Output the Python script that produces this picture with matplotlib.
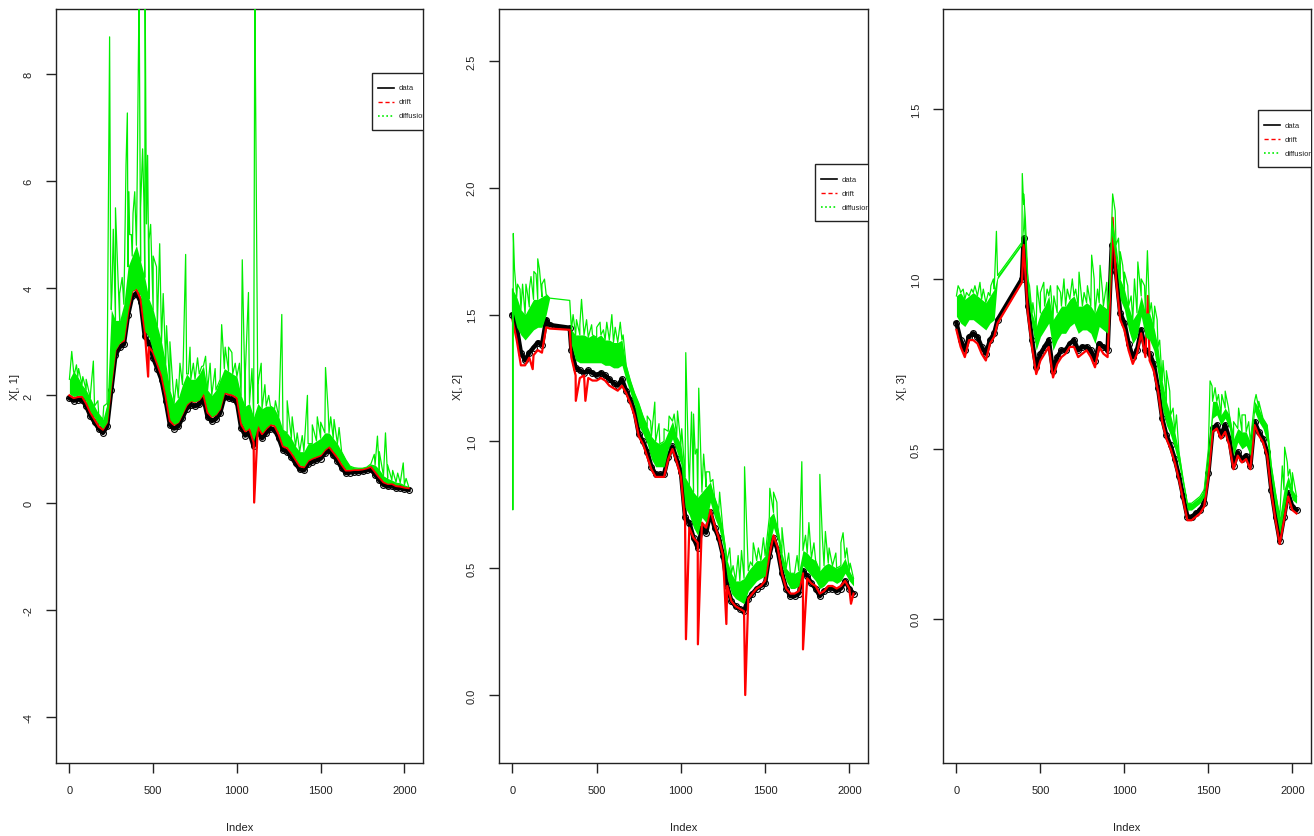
import numpy as np
import matplotlib
matplotlib.use("Agg")
import matplotlib.pyplot as plt
from matplotlib.patches import Rectangle
from matplotlib.lines import Line2D

plt.rcParams['font.family'] = ['Liberation Sans', 'DejaVu Sans']

# ---------------------------------------------------------------- data
# ---- X[, 1]  (sampled every 25th observation)
index1 = np.arange(0, 2026, 25)
data1 = [1.95, 1.90, 1.92, 1.92, 1.80, 1.62, 1.50, 1.38, 1.30, 1.42,
         2.10, 2.75, 2.90, 2.95, 3.50, 3.85, 3.90, 3.75, 3.10, 2.98,
         2.70, 2.50, 2.29, 1.90, 1.45, 1.38, 1.42, 1.58, 1.75, 1.82,
         1.80, 1.83, 1.95, 1.60, 1.52, 1.56, 1.67, 1.97, 1.95, 1.93,
         1.88, 1.40, 1.25, 1.30, 1.05, 1.35, 1.20, 1.30, 1.38, 1.36,
         1.20, 0.98, 0.95, 0.85, 0.73, 0.62, 0.60, 0.72, 0.76, 0.79,
         0.82, 0.92, 0.98, 0.88, 0.78, 0.65, 0.55, 0.56, 0.57, 0.57,
         0.58, 0.60, 0.62, 0.52, 0.42, 0.33, 0.30, 0.31, 0.27, 0.27,
         0.25, 0.24]
drift1 = [2.00, 1.95, 1.97, 1.98, 1.85, 1.68, 1.55, 1.42, 1.36, 1.50,
          2.20, 2.85, 2.98, 3.02, 3.55, 3.95, 3.98, 3.80, 3.20, 2.90,
          2.80, 2.58, 2.36, 1.98, 1.52, 1.45, 1.50, 1.66, 1.82, 1.90,
          1.88, 1.92, 2.02, 1.68, 1.60, 1.64, 1.75, 2.05, 2.02, 2.00,
          1.95, 1.48, 1.33, 1.38, 1.12, 1.42, 1.28, 1.38, 1.45, 1.43,
          1.27, 1.05, 1.02, 0.92, 0.80, 0.68, 0.66, 0.78, 0.82, 0.85,
          0.88, 0.98, 1.04, 0.94, 0.84, 0.71, 0.60, 0.60, 0.61, 0.61,
          0.62, 0.64, 0.67, 0.57, 0.47, 0.38, 0.35, 0.35, 0.31, 0.30,
          0.28, 0.27]
drift1_spike_idx = [470, 1027, 1103]
drift1_spike_val = [2.35, 1.45, 0.00]
diff1_lo = [2.03, 1.98, 2.00, 2.00, 1.88, 1.70, 1.58, 1.46, 1.38, 1.50,
            2.20, 2.85, 2.98, 3.05, 3.60, 3.95, 4.00, 3.85, 3.20, 3.08,
            2.80, 2.60, 2.38, 2.00, 1.55, 1.46, 1.50, 1.66, 1.84, 1.90,
            1.88, 1.92, 2.04, 1.70, 1.60, 1.65, 1.76, 2.06, 2.04, 2.02,
            1.97, 1.50, 1.34, 1.40, 1.15, 1.44, 1.30, 1.40, 1.47, 1.45,
            1.30, 1.07, 1.04, 0.94, 0.82, 0.70, 0.68, 0.80, 0.84, 0.87,
            0.90, 1.00, 1.06, 0.96, 0.86, 0.73, 0.62, 0.62, 0.63, 0.63,
            0.64, 0.66, 0.69, 0.59, 0.49, 0.40, 0.36, 0.37, 0.33, 0.33,
            0.30, 0.29]
diff1_hi = [2.30, 2.45, 2.35, 2.20, 2.10, 1.95, 1.80, 1.65, 1.55, 1.85,
            3.60, 3.40, 3.40, 3.70, 4.40, 4.60, 4.80, 4.50, 4.20, 3.80,
            3.60, 3.30, 3.00, 2.60, 2.10, 1.85, 1.95, 2.20, 2.40, 2.30,
            2.30, 2.40, 2.55, 2.10, 2.00, 2.10, 2.30, 2.50, 2.45, 2.40,
            2.35, 2.00, 1.80, 1.85, 1.60, 1.85, 1.75, 1.80, 1.80, 1.75,
            1.60, 1.35, 1.30, 1.20, 1.05, 0.95, 0.95, 1.10, 1.10, 1.15,
            1.20, 1.30, 1.30, 1.20, 1.10, 0.95, 0.80, 0.68, 0.65, 0.64,
            0.64, 0.66, 0.72, 0.70, 0.62, 0.50, 0.45, 0.42, 0.38, 0.37,
            0.33, 0.30]
diff1_spike_idx = [14, 30, 42, 55, 80, 100, 125, 143, 170, 205, 225,
                   240, 246, 255, 262, 268, 275, 290, 300, 315, 330, 338,
                   346, 355, 360, 370, 380, 390, 405, 416, 425, 437, 445,
                   452, 460, 467, 475, 485, 500, 520, 539, 560, 580, 600,
                   640, 660, 680, 694, 710, 720, 740, 765, 790, 813, 840,
                   870, 909, 930, 950, 970, 990, 1015, 1032, 1050, 1069,
                   1090, 1107, 1125, 1145, 1167, 1190, 1230, 1268, 1300,
                   1330, 1360, 1390, 1421, 1450, 1480, 1500, 1529, 1545,
                   1560, 1580, 1610, 1820, 1839, 1850, 1887, 1900, 1930,
                   1960, 1993, 2010]
diff1_spike_val = [2.82, 2.40, 2.57, 2.50, 2.35, 2.30, 2.00, 2.64, 1.90, 1.80,
                   2.20, 8.69, 4.42, 4.00, 5.10, 4.30, 5.50, 4.20, 3.90, 4.20,
                   4.60, 6.30, 7.27, 5.80, 5.00, 5.00, 5.40, 5.80, 6.10, 9.60,
                   5.50, 6.60, 5.60, 9.60, 5.20, 6.48, 4.90, 5.19, 4.60, 4.40,
                   4.83, 3.90, 3.30, 3.00, 2.30, 2.60, 2.70, 4.63, 2.40, 2.90,
                   2.60, 2.70, 2.54, 2.73, 2.60, 2.50, 3.32, 2.90, 2.90, 2.80,
                   2.60, 2.60, 4.53, 2.40, 3.92, 2.50, 9.60, 2.20, 2.60, 2.20,
                   2.00, 1.90, 3.51, 1.90, 1.60, 1.30, 1.25, 2.00, 1.45, 1.60,
                   1.50, 2.52, 1.70, 1.60, 1.55, 1.40, 0.90, 1.24, 0.95, 1.30,
                   0.70, 0.60, 0.55, 0.74, 0.45]

# ---- X[, 2]  (no observations between 221 and 340)
index2 = np.r_[np.arange(0, 201, 25), 221, 340, np.arange(350, 2026, 25)]
data2 = [1.50, 1.45, 1.35, 1.32, 1.35, 1.37, 1.39, 1.38, 1.48,
         1.459, 1.448,
         1.36, 1.29, 1.28, 1.27, 1.28, 1.27,
         1.26, 1.27, 1.26, 1.245, 1.23, 1.22, 1.245, 1.20, 1.165, 1.12,
         1.03, 1.00, 0.96, 0.90, 0.87, 0.87, 0.87, 0.94, 0.98, 0.93,
         0.88, 0.70, 0.68, 0.62, 0.58, 0.66, 0.64, 0.72, 0.66, 0.62,
         0.55, 0.43, 0.37, 0.35, 0.34, 0.33, 0.38, 0.40, 0.42, 0.43,
         0.44, 0.55, 0.62, 0.57, 0.48, 0.42, 0.39, 0.39, 0.40, 0.49,
         0.47, 0.44, 0.42, 0.39, 0.41, 0.42, 0.42, 0.41, 0.42, 0.45,
         0.42, 0.40]
drift2 = [1.48, 1.40, 1.30, 1.30, 1.33, 1.34, 1.36, 1.35, 1.45,
          1.445, 1.44,
          1.33, 1.26, 1.25, 1.26, 1.25, 1.24,
          1.24, 1.25, 1.24, 1.22, 1.21, 1.20, 1.22, 1.19, 1.15, 1.10,
          1.02, 0.99, 0.94, 0.89, 0.86, 0.86, 0.86, 0.93, 0.97, 0.92,
          0.86, 0.68, 0.66, 0.62, 0.60, 0.68, 0.66, 0.73, 0.67, 0.62,
          0.55, 0.43, 0.37, 0.35, 0.34, 0.33, 0.38, 0.40, 0.42, 0.43,
          0.45, 0.55, 0.63, 0.58, 0.48, 0.42, 0.40, 0.40, 0.41, 0.48,
          0.46, 0.44, 0.43, 0.40, 0.41, 0.43, 0.43, 0.42, 0.43, 0.45,
          0.42, 0.40]
drift2_spike_idx = [120, 376, 433, 1030, 1101, 1270, 1382, 1725, 2010]
drift2_spike_val = [1.285, 1.16, 1.16, 0.22, 0.20, 0.28, 0.00, 0.18, 0.36]
diff2_lo = [1.52, 1.45, 1.42, 1.40, 1.42, 1.44, 1.45, 1.45, 1.50,
            1.565, 1.556,
            1.38, 1.32, 1.31, 1.31, 1.31, 1.31,
            1.31, 1.31, 1.30, 1.30, 1.29, 1.29, 1.30, 1.24, 1.19, 1.14,
            1.06, 1.03, 0.99, 0.93, 0.90, 0.90, 0.90, 0.97, 1.01, 0.96,
            0.91, 0.74, 0.71, 0.66, 0.63, 0.70, 0.68, 0.76, 0.70, 0.66,
            0.59, 0.46, 0.40, 0.38, 0.37, 0.36, 0.41, 0.43, 0.45, 0.46,
            0.47, 0.59, 0.66, 0.61, 0.51, 0.45, 0.42, 0.42, 0.43, 0.51,
            0.49, 0.47, 0.45, 0.42, 0.43, 0.45, 0.45, 0.44, 0.45, 0.48,
            0.45, 0.43]
diff2_hi = [1.60, 1.57, 1.52, 1.50, 1.53, 1.56, 1.56, 1.57, 1.58,
            1.565, 1.556,
            1.44, 1.42, 1.42, 1.42, 1.41, 1.42,
            1.41, 1.42, 1.40, 1.40, 1.39, 1.39, 1.40, 1.30, 1.24, 1.19,
            1.15, 1.10, 1.06, 1.02, 1.00, 0.99, 1.00, 1.04, 1.08, 1.02,
            0.99, 0.86, 0.83, 0.80, 0.78, 0.80, 0.82, 0.84, 0.78, 0.73,
            0.65, 0.53, 0.48, 0.45, 0.45, 0.46, 0.49, 0.51, 0.53, 0.53,
            0.55, 0.70, 0.72, 0.66, 0.56, 0.50, 0.48, 0.48, 0.49, 0.57,
            0.56, 0.54, 0.53, 0.49, 0.51, 0.52, 0.51, 0.50, 0.51, 0.54,
            0.49, 0.46]
diff2_spike_idx = [2, 5, 12, 30, 45, 60, 80, 90, 100, 110, 127, 140, 150,
                   160, 175, 190, 360, 380, 400, 410, 440, 470, 500, 520,
                   540, 560, 590, 610, 640, 657, 800, 820, 845, 870, 900,
                   930, 960, 980, 1005, 1029, 1045, 1063, 1075, 1085, 1095,
                   1106, 1120, 1135, 1150, 1170, 1190, 1230, 1290, 1310,
                   1340, 1360, 1378, 1413, 1430, 1460, 1490, 1528, 1550,
                   1570, 1600, 1640, 1690, 1718, 1740, 1760, 1790, 1825,
                   1840, 1858, 1880, 1920, 1950, 1963, 1985, 2005]
diff2_spike_val = [0.73, 1.82, 1.68, 1.62, 1.60, 1.62, 1.62, 1.58, 1.60, 1.65,
                   1.67, 1.66, 1.72, 1.68, 1.62, 1.64, 1.50, 1.48, 1.46, 1.56,
                   1.48, 1.46, 1.45, 1.47, 1.44, 1.47, 1.50, 1.45, 1.47, 1.42,
                   1.10, 1.08, 1.155, 1.07, 1.05, 1.10, 1.108, 1.12, 1.05, 1.35,
                   0.92, 1.116, 1.108, 0.95, 0.97, 1.21, 0.90, 0.95, 0.88, 0.88,
                   0.85, 0.80, 0.58, 0.51, 0.55, 0.57, 0.90, 0.525, 0.60, 0.58,
                   0.62, 0.815, 0.80, 0.76, 0.66, 0.56, 0.55, 0.92, 0.63, 0.68,
                   0.60, 0.87, 0.62, 0.645, 0.58, 0.56, 0.60, 0.64, 0.58, 0.52]

# ---- X[, 3]  (no observations between 245 and 390)
index3 = np.r_[np.arange(0, 226, 25), 245, 390, np.arange(400, 2026, 25)]
data3 = [0.87, 0.82, 0.79, 0.83, 0.84, 0.83, 0.80, 0.78, 0.82, 0.84,
         0.88, 1.00,
         1.12, 0.92, 0.82, 0.74,
         0.78, 0.80, 0.82, 0.73, 0.77, 0.79, 0.79, 0.81, 0.82, 0.79,
         0.80, 0.80, 0.79, 0.76, 0.81, 0.80, 0.79, 1.10, 1.02, 0.90,
         0.87, 0.81, 0.77, 0.79, 0.85, 0.79, 0.78, 0.75, 0.68, 0.59,
         0.54, 0.51, 0.47, 0.42, 0.36, 0.30, 0.30, 0.31, 0.32, 0.34,
         0.43, 0.56, 0.57, 0.54, 0.57, 0.53, 0.45, 0.49, 0.47, 0.48,
         0.45, 0.58, 0.55, 0.53, 0.49, 0.38, 0.30, 0.23, 0.30, 0.37,
         0.33, 0.32]
drift3 = [0.85, 0.80, 0.77, 0.82, 0.82, 0.81, 0.78, 0.76, 0.81, 0.83,
          0.87, 0.99,
          1.10, 0.90, 0.80, 0.72,
          0.76, 0.78, 0.80, 0.71, 0.75, 0.77, 0.78, 0.80, 0.80, 0.77,
          0.78, 0.79, 0.77, 0.74, 0.80, 0.78, 0.77, 1.08, 1.00, 0.88,
          0.85, 0.79, 0.75, 0.78, 0.84, 0.77, 0.76, 0.73, 0.67, 0.58,
          0.53, 0.50, 0.46, 0.41, 0.35, 0.29, 0.29, 0.30, 0.31, 0.33,
          0.42, 0.55, 0.56, 0.53, 0.55, 0.51, 0.44, 0.48, 0.46, 0.47,
          0.44, 0.57, 0.54, 0.52, 0.48, 0.37, 0.29, 0.22, 0.29, 0.36,
          0.32, 0.31]
drift3_spike_idx = [930, 1140]
drift3_spike_val = [1.18, 0.95]
diff3_lo = [0.89, 0.87, 0.86, 0.88, 0.88, 0.87, 0.86, 0.85, 0.87, 0.88,
            1.00, 1.10,
            1.15, 0.95, 0.86, 0.79,
            0.83, 0.85, 0.87, 0.79, 0.82, 0.84, 0.84, 0.86, 0.87, 0.84,
            0.85, 0.85, 0.84, 0.81, 0.86, 0.85, 0.84, 1.13, 1.05, 0.94,
            0.91, 0.85, 0.81, 0.83, 0.89, 0.83, 0.82, 0.79, 0.72, 0.62,
            0.57, 0.54, 0.50, 0.45, 0.39, 0.32, 0.32, 0.33, 0.34, 0.36,
            0.46, 0.59, 0.60, 0.57, 0.59, 0.56, 0.48, 0.52, 0.50, 0.51,
            0.48, 0.61, 0.58, 0.56, 0.52, 0.41, 0.32, 0.25, 0.32, 0.39,
            0.35, 0.34]
diff3_hi = [0.95, 0.96, 0.94, 0.95, 0.96, 0.95, 0.94, 0.93, 0.95, 0.97,
            1.01, 1.108,
            1.22, 1.00, 0.90, 0.86,
            0.90, 0.92, 0.95, 0.88, 0.90, 0.92, 0.92, 0.94, 0.95, 0.92,
            0.92, 0.93, 0.92, 0.90, 0.93, 0.92, 0.91, 1.18, 1.10, 1.00,
            0.97, 0.92, 0.88, 0.90, 0.95, 0.90, 0.90, 0.86, 0.80, 0.70,
            0.64, 0.60, 0.55, 0.49, 0.41, 0.34, 0.34, 0.35, 0.36, 0.38,
            0.50, 0.64, 0.64, 0.60, 0.62, 0.60, 0.53, 0.56, 0.55, 0.55,
            0.52, 0.64, 0.62, 0.59, 0.57, 0.45, 0.37, 0.30, 0.38, 0.42,
            0.38, 0.36]
diff3_spike_idx = [10, 20, 40, 60, 90, 110, 140, 160, 190, 205, 220, 238,
                   392, 400, 410, 420, 435, 455, 480, 500, 520, 540, 560,
                   580, 600, 620, 640, 660, 690, 710, 730, 760, 780, 805,
                   820, 840, 855, 870, 895, 910, 930, 945, 965, 975, 990,
                   1000, 1020, 1040, 1060, 1080, 1100, 1120, 1137, 1160,
                   1180, 1195, 1210, 1230, 1250, 1270, 1290, 1310, 1510,
                   1522, 1540, 1560, 1580, 1600, 1620, 1650, 1680, 1700,
                   1720, 1740, 1784, 1800, 1940, 1954, 1970, 1985, 2000]
diff3_spike_val = [0.98, 0.97, 0.97, 0.96, 0.97, 0.98, 0.99, 0.97, 0.96, 0.98,
                   1.00, 1.14, 1.31, 1.25, 1.18, 1.06, 0.98, 0.93, 0.98, 0.96,
                   0.99, 0.97, 0.98, 0.95, 0.98, 0.96, 1.00, 0.97, 1.00, 0.97,
                   1.02, 0.96, 0.98, 1.07, 1.00, 0.97, 1.04, 0.96, 0.99, 0.94,
                   1.25, 1.20, 1.12, 1.08, 1.04, 1.02, 0.98, 0.95, 1.00, 1.05,
                   1.00, 0.98, 1.083, 0.93, 0.92, 0.88, 0.82, 0.76, 0.73, 0.67,
                   0.62, 0.60, 0.70, 0.685, 0.68, 0.66, 0.66, 0.67, 0.62, 0.58,
                   0.62, 0.60, 0.60, 0.58, 0.66, 0.64, 0.45, 0.505, 0.46, 0.44,
                   0.43]

y_labels = ["X[, 1]", "X[, 2]", "X[, 3]"]
y_ticks = [[-4, -2, 0, 2, 4, 6, 8],
           [0.0, 0.5, 1.0, 1.5, 2.0, 2.5],
           [0.0, 0.5, 1.0, 1.5]]
y_tick_labels = [["-4", "-2", "0", "2", "4", "6", "8"],
                 ["0.0", "0.5", "1.0", "1.5", "2.0", "2.5"],
                 ["0.0", "0.5", "1.0", "1.5"]]
x_ticks = [0, 500, 1000, 1500, 2000]
legend_labels = ["data", "drift", "diffusion"]

# ---------------------------------------------------------------- layout
W, H = 1314, 837
fig = plt.figure(figsize=(W / 100, H / 100), dpi=100)
fig.patch.set_facecolor("white")

panels = [
    dict(left=56, right=423, ylim=(-4.86, 9.21), idx=index1,
         data=data1, drift=drift1, dsi=drift1_spike_idx, dsv=drift1_spike_val,
         lo=diff1_lo, hi=diff1_hi, gsi=diff1_spike_idx, gsv=diff1_spike_val,
         leg=(372, 74)),
    dict(left=499, right=868, ylim=(-0.268, 2.705), idx=index2,
         data=data2, drift=drift2, dsi=drift2_spike_idx, dsv=drift2_spike_val,
         lo=diff2_lo, hi=diff2_hi, gsi=diff2_spike_idx, gsv=diff2_spike_val,
         leg=(815, 165)),
    dict(left=943, right=1311, ylim=(-0.424, 1.794), idx=index3,
         data=data3, drift=drift3, dsi=drift3_spike_idx, dsv=drift3_spike_val,
         lo=diff3_lo, hi=diff3_hi, gsi=diff3_spike_idx, gsv=diff3_spike_val,
         leg=(1258, 111)),
]
TOP, BOTTOM = 10, 764
GREEN = "#00EE00"
RED = "#FF0000"


def fx(px):
    return px / W


def fy(py):
    return 1 - py / H


def merged(xs_list, ys_list):
    xs = np.concatenate([np.asarray(v, float) for v in xs_list])
    ys = np.concatenate([np.asarray(v, float) for v in ys_list])
    order = np.argsort(xs, kind="mergesort")
    return xs[order], ys[order]


for k, p in enumerate(panels):
    ax = fig.add_axes([fx(p["left"]), fy(BOTTOM),
                       (p["right"] - p["left"]) / W, (BOTTOM - TOP) / H])
    ax.set_xlim(-80, 2111)
    ax.set_ylim(*p["ylim"])
    idx = p["idx"]

    # observed series: thick line with open circles
    ax.plot(idx, p["data"], color="black", lw=3.2, solid_joinstyle="round",
            marker="o", ms=4.2, mfc="none", mec="black", mew=0.8, zorder=2)

    # drift estimate
    dx, dy = merged([idx, p["dsi"]], [p["drift"], p["dsv"]])
    ax.plot(dx, dy, color=RED, lw=1.6, zorder=3)

    # diffusion estimate: dense band between low / high readings plus spikes
    ax.fill_between(idx, p["lo"], p["hi"], color=GREEN, lw=0, zorder=4)
    gx, gy = merged([idx, p["gsi"]], [p["hi"], p["gsv"]])
    ax.plot(gx, gy, color=GREEN, lw=0.9, zorder=4)

    # axes styling
    for s in ax.spines.values():
        s.set_linewidth(1.0)
        s.set_color("#222222")
    ax.set_xticks(x_ticks)
    ax.set_xticklabels([str(t) for t in x_ticks])
    ax.set_yticks(y_ticks[k])
    ax.set_yticklabels(y_tick_labels[k], rotation=90, va="center")
    ax.tick_params(direction="out", length=7, width=1, color="#222222",
                   labelsize=8, pad=9, labelcolor="#222222")

    # axis titles
    fig.text(fx((p["left"] + p["right"]) / 2), fy(828), "Index",
             ha="center", va="center", fontsize=8, color="#222222")
    fig.text(fx(p["left"] - 41), fy((TOP + BOTTOM) / 2), y_labels[k],
             rotation=90, ha="center", va="center", fontsize=8,
             color="#222222")

    # legend box, clipped by the plot region
    lx, ly = p["leg"]
    box = Rectangle((fx(lx), fy(ly + 57)), 70 / W, 57 / H,
                    transform=fig.transFigure, facecolor="white",
                    edgecolor="#222222", lw=1.0, zorder=6)
    ax.add_patch(box)
    box.set_clip_on(True)
    box.set_clip_box(ax.bbox)
    styles = [dict(color="black", ls="-", lw=1.2),
              dict(color=RED, ls=(0, (3, 2)), lw=1.0),
              dict(color=GREEN, ls=(0, (1, 1.5)), lw=1.2)]
    for j, (lab, st) in enumerate(zip(legend_labels, styles)):
        yy = ly + 15 + 14 * j
        ln = Line2D([fx(lx + 6), fx(lx + 22)], [fy(yy), fy(yy)],
                    transform=fig.transFigure, zorder=7, **st)
        ax.add_line(ln)
        ln.set_clip_box(ax.bbox)
        t = ax.text(fx(lx + 27), fy(yy), lab, transform=fig.transFigure,
                    fontsize=5.5, va="center", ha="left", color="#222222",
                    zorder=7, clip_on=True)
        t.set_clip_box(ax.bbox)

fig.savefig("out.png", dpi=100, facecolor="white")
